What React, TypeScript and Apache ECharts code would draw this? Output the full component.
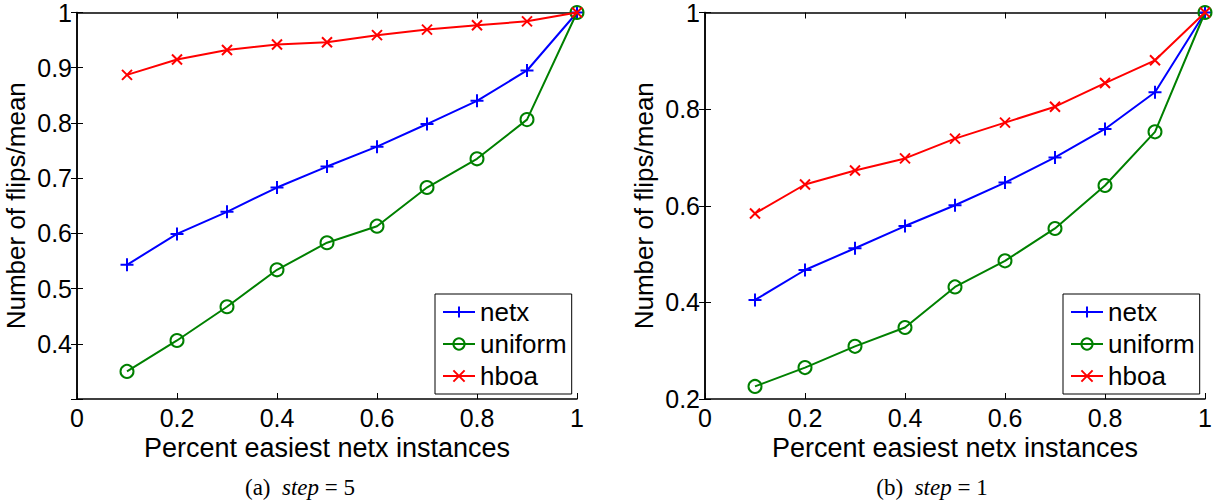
import React, { useEffect, useRef } from "react";
import * as echarts from "echarts";

const X = [0.1, 0.2, 0.3, 0.4, 0.5, 0.6, 0.7, 0.8, 0.9, 1];
const A_NETX = [0.543, 0.599, 0.639, 0.683, 0.721, 0.757, 0.798, 0.840, 0.895, 1];
const A_UNIFORM = [0.350, 0.406, 0.467, 0.534, 0.583, 0.613, 0.683, 0.735, 0.806, 1];
const A_HBOA = [0.887, 0.915, 0.932, 0.942, 0.946, 0.959, 0.969, 0.977, 0.984, 1];
const B_NETX = [0.405, 0.467, 0.512, 0.558, 0.601, 0.648, 0.700, 0.759, 0.835, 1];
const B_UNIFORM = [0.226, 0.265, 0.309, 0.348, 0.432, 0.486, 0.553, 0.642, 0.753, 1];
const B_HBOA = [0.584, 0.644, 0.673, 0.698, 0.739, 0.772, 0.805, 0.854, 0.901, 1];
const SERIES_NAMES = ["netx", "uniform", "hboa"];
const X_LABEL = "Percent easiest netx instances";
const Y_LABEL = "Number of flips/mean";

const FONT = "Liberation Sans, Arial, Helvetica, sans-serif";
const SERIF = "Liberation Serif, DejaVu Serif, serif";
const PLUS = "path://M0,5L10,5M5,0L5,10";
const CROSS = "path://M0,0L10,10M10,0L0,10";

const fmt = (hide?: number) => (v: number) => {
  if (hide !== undefined && Math.abs(v - hide) < 1e-9) return "";
  return String(+v.toFixed(1));
};

export default function App() {
  const ref = useRef<HTMLDivElement>(null);
  useEffect(() => {
    const chart = echarts.init(ref.current!, null, { renderer: "svg" });
    const grids = [
      { left: 77, top: 10, width: 500, height: 389 },
      { left: 705, top: 10, width: 500, height: 389 },
    ];
    const axisLine = { show: true, lineStyle: { color: "#000", width: 1.5 } };
    const tick = { show: true, inside: true, length: 6, lineStyle: { color: "#000", width: 1 } };
    const xAxes: any[] = [];
    const yAxes: any[] = [];
    const yCfg = [
      { min: 0.3, max: 1, interval: 0.1, hide: 0.3 },
      { min: 0.2, max: 1, interval: 0.2, hide: undefined },
    ];
    [0, 1].forEach((g) => {
      xAxes.push({
        type: "value", gridIndex: g, min: 0, max: 1, interval: 0.2, position: "bottom",
        axisLine, axisTick: tick, splitLine: { show: false },
        axisLabel: { color: "#000", fontFamily: FONT, fontSize: 25, margin: 6, formatter: fmt() },
        name: X_LABEL, nameLocation: "middle", nameGap: 29,
        nameTextStyle: { color: "#000", fontFamily: FONT, fontSize: 27 },
      });
      xAxes.push({
        type: "value", gridIndex: g, min: 0, max: 1, interval: 0.2, position: "top",
        axisLine, axisTick: tick, splitLine: { show: false }, axisLabel: { show: false },
      });
      const yc = yCfg[g];
      yAxes.push({
        type: "value", gridIndex: g, min: yc.min, max: yc.max, interval: yc.interval, position: "left",
        axisLine, axisTick: tick, splitLine: { show: false },
        axisLabel: { color: "#000", fontFamily: FONT, fontSize: 25, margin: 5, formatter: fmt(yc.hide) },
        name: Y_LABEL, nameLocation: "middle", nameGap: 48, nameRotate: 90,
        nameTextStyle: { color: "#000", fontFamily: FONT, fontSize: 26 },
      });
      yAxes.push({
        type: "value", gridIndex: g, min: yc.min, max: yc.max, interval: yc.interval, position: "right",
        axisLine, axisTick: tick, splitLine: { show: false }, axisLabel: { show: false },
      });
    });

    const mk = (name: string, data: number[], g: number, color: string, symbol: string, size: number, z: number) => ({
      type: "line", name, xAxisIndex: g * 2, yAxisIndex: g * 2,
      data: X.map((x, i) => [x, data[i]]),
      symbol, symbolSize: size, showSymbol: true,
      lineStyle: { color, width: 2 },
      itemStyle: { color: symbol === "circle" ? "rgba(0,0,0,0)" : color, borderColor: color, borderWidth: 2 },
      z,
    });
    const series = [
      mk("netx", A_NETX, 0, "#0000ff", PLUS, 13, 2),
      mk("uniform", A_UNIFORM, 0, "#008000", "circle", 13, 3),
      mk("hboa", A_HBOA, 0, "#ff0000", CROSS, 10, 4),
      mk("netx", B_NETX, 1, "#0000ff", PLUS, 13, 2),
      mk("uniform", B_UNIFORM, 1, "#008000", "circle", 13, 3),
      mk("hboa", B_HBOA, 1, "#ff0000", CROSS, 10, 4),
    ];
    const legendBase = {
      orient: "vertical", data: SERIES_NAMES, top: 294,
      borderColor: "#000", borderWidth: 1, backgroundColor: "#fff",
      padding: [5, 5, 5, 7], itemWidth: 32, itemHeight: 14, itemGap: 6,
      textStyle: { color: "#000", fontFamily: FONT, fontSize: 26, lineHeight: 26 },
      selectedMode: false,
    };
    const caption = (letter: string, n: string) => ({
      text: `{n|(${letter})  }{i|step}{n| = ${n}}`,
      rich: {
        n: { fontFamily: SERIF, fontSize: 23, fill: "#000" },
        i: { fontFamily: SERIF, fontSize: 23, fontStyle: "italic", fill: "#000" },
      },
      align: "center", verticalAlign: "middle",
    });
    chart.setOption({
      animation: false,
      backgroundColor: "#fff",
      grid: grids,
      xAxis: xAxes,
      yAxis: yAxes,
      series,
      legend: [
        { ...legendBase, left: 435 },
        { ...legendBase, left: 1063 },
      ],
      graphic: [
        { type: "text", x: 300, y: 487, style: caption("a", "5") },
        { type: "text", x: 932, y: 487, style: caption("b", "1") },
      ],
    });
    return () => chart.dispose();
  }, []);
  return <div ref={ref} style={{ position: "absolute", left: 0, top: 0, width: 1225, height: 504 }} />;
}
